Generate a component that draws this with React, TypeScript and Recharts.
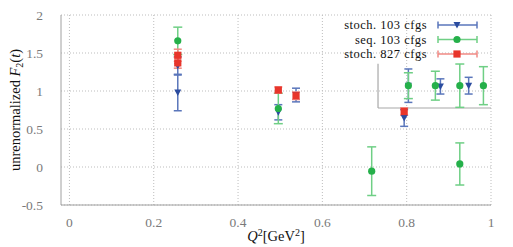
import React from "react";
import { ScatterChart, Scatter, XAxis, YAxis, CartesianGrid, ErrorBar, ReferenceLine } from "recharts";

// --- data ---
const stoch103 = [
  { x: 0.257, y: 0.98, err: 0.24 },
  { x: 0.257, y: 1.33, err: 0.12 },
  { x: 0.4955, y: 0.72, err: 0.1 },
  { x: 0.5375, y: 0.947, err: 0.09 },
  { x: 0.794, y: 0.645, err: 0.11 },
  { x: 0.804, y: 1.07, err: 0.22 },
  { x: 0.88, y: 1.06, err: 0.1 },
  { x: 0.947, y: 1.07, err: 0.11 },
];

const seq103 = [
  { x: 0.257, y: 1.66, err: 0.18 },
  { x: 0.4955, y: 0.77, err: 0.2 },
  { x: 0.717, y: -0.055, err: 0.32 },
  { x: 0.804, y: 1.07, err: 0.17 },
  { x: 0.868, y: 1.07, err: 0.19 },
  { x: 0.926, y: 1.07, err: 0.285 },
  { x: 0.926, y: 0.04, err: 0.277 },
  { x: 0.982, y: 1.07, err: 0.25 },
];

const stoch827 = [
  { x: 0.257, y: 1.47, err: 0.08 },
  { x: 0.257, y: 1.37, err: 0.07 },
  { x: 0.4955, y: 1.013, err: 0.04 },
  { x: 0.5375, y: 0.938, err: 0.05 },
  { x: 0.794, y: 0.73, err: 0.05 },
];

const xTicks = [0, 0.2, 0.4, 0.6, 0.8, 1];
const yTicks = [-0.5, 0, 0.5, 1, 1.5, 2];

const legendItems = [
  { name: "stoch. 103 cfgs", color: "#2b4c9f", bar: "#5a76bb", shape: "tri" },
  { name: "seq. 103 cfgs", color: "#25b04a", bar: "#6fcf85", shape: "circle" },
  { name: "stoch. 827 cfgs", color: "#e8352b", bar: "#f08a84", shape: "square" },
];

const FONT = "Liberation Serif";

const DownTri = (props: any) => {
  const { cx, cy } = props;
  if (cx == null || cy == null) return null;
  return <polygon points={`${cx - 3.5},${cy - 3} ${cx + 3.5},${cy - 3} ${cx},${cy + 3.5}`} fill="#2b4c9f" />;
};
const Dot = (props: any) => {
  const { cx, cy } = props;
  if (cx == null || cy == null) return null;
  return <circle cx={cx} cy={cy} r={3.6} fill="#25b04a" />;
};
const Sq = (props: any) => {
  const { cx, cy } = props;
  if (cx == null || cy == null) return null;
  return <rect x={cx - 3.6} y={cy - 3.6} width={7.2} height={7.2} fill="#e8352b" />;
};

const marker = (shape: string, cx: number, cy: number, color: string) => {
  if (shape === "tri") return <polygon points={`${cx - 3.5},${cy - 3} ${cx + 3.5},${cy - 3} ${cx},${cy + 3.5}`} fill={color} />;
  if (shape === "circle") return <circle cx={cx} cy={cy} r={3.6} fill={color} />;
  return <rect x={cx - 3.6} y={cy - 3.6} width={7.2} height={7.2} fill={color} />;
};

const YLabel = () => (
  <text x={20} y={110} transform="rotate(-90 20 110)" textAnchor="middle" style={{ fontFamily: FONT }} fontSize={14.5} fill="#111">
    unrenormalized <tspan fontStyle="italic">F</tspan>
    <tspan fontSize={10} dy={3}>2</tspan>
    <tspan dy={-3}>(</tspan>
    <tspan fontStyle="italic">t</tspan>)
  </text>
);

const XLabel = () => (
  <text x={276} y={241} textAnchor="middle" style={{ fontFamily: FONT }} fontSize={14.5} fill="#111">
    <tspan fontStyle="italic">Q</tspan>
    <tspan fontSize={10} dy={-5}>2</tspan>
    <tspan dy={5}>[GeV</tspan>
    <tspan fontSize={10} dy={-5}>2</tspan>
    <tspan dy={5}>]</tspan>
  </text>
);

export default function App() {
  return (
    <div style={{ position: "absolute", left: 0, top: 0, width: 513, height: 247, background: "#fff", fontFamily: FONT }}>
      <ScatterChart width={513} height={247} margin={{ top: 15, right: 22, left: 0, bottom: 12 }} style={{ fontFamily: FONT }}>
        <CartesianGrid stroke="#bdbdbd" strokeDasharray="1 2" horizontalValues={yTicks} verticalValues={xTicks} />
        <XAxis
          type="number"
          dataKey="x"
          domain={[-0.02, 1]}
          ticks={xTicks}
          allowDataOverflow
          height={30}
          tickLine={false}
          tickMargin={6}
          stroke="#a0a0a0"
          tick={{ fontFamily: FONT, fontSize: 13.5, fill: "#7a7a7a" }}
        />
        <YAxis
          type="number"
          dataKey="y"
          domain={[-0.5, 2]}
          ticks={yTicks}
          allowDataOverflow
          width={61}
          tickLine={false}
          tickMargin={12}
          stroke="#a0a0a0"
          tick={{ fontFamily: FONT, fontSize: 13.5, fill: "#7a7a7a" }}
        />
        <ReferenceLine segment={[{ x: 0.732, y: 1.36 }, { x: 0.732, y: 0.776 }]} stroke="#a8a8a8" strokeWidth={1.2} />
        <ReferenceLine segment={[{ x: 0.732, y: 0.776 }, { x: 1, y: 0.776 }]} stroke="#a8a8a8" strokeWidth={1.2} />
        <Scatter data={stoch103} shape={<DownTri />} isAnimationActive={false}>
          <ErrorBar dataKey="err" direction="y" width={4} stroke="#5a76bb" strokeWidth={1.5} />
        </Scatter>
        <Scatter data={seq103} shape={<Dot />} isAnimationActive={false}>
          <ErrorBar dataKey="err" direction="y" width={4.5} stroke="#6fcf85" strokeWidth={1.5} />
        </Scatter>
        <Scatter data={stoch827} shape={<Sq />} isAnimationActive={false}>
          <ErrorBar dataKey="err" direction="y" width={4} stroke="#f08a84" strokeWidth={1.5} />
        </Scatter>
      </ScatterChart>
      <svg width={513} height={247} style={{ position: "absolute", left: 0, top: 0, pointerEvents: "none" }}>
        <YLabel />
        <XLabel />
        {legendItems.map((it, i) => {
          const cy = 25 + i * 14.5;
          return (
            <g key={it.name}>
              <text x={427} y={cy + 4} textAnchor="end" style={{ fontFamily: FONT, letterSpacing: 0.5 }} fontSize={12.5} fill="#111">
                {it.name}
              </text>
              <line x1={438} y1={cy} x2={477} y2={cy} stroke={it.bar} strokeWidth={1.5} />
              <line x1={438} y1={cy - 3.5} x2={438} y2={cy + 3.5} stroke={it.bar} strokeWidth={1.5} />
              <line x1={477} y1={cy - 3.5} x2={477} y2={cy + 3.5} stroke={it.bar} strokeWidth={1.5} />
              {marker(it.shape, 457, cy, it.color)}
            </g>
          );
        })}
      </svg>
    </div>
  );
}
